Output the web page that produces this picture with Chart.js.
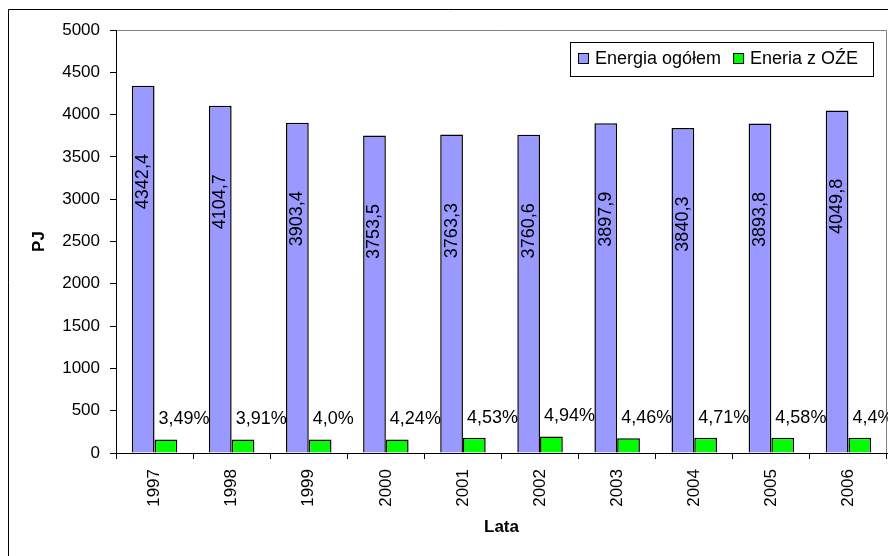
<!DOCTYPE html>
<html>
<head>
<meta charset="utf-8">
<script src="https://cdn.jsdelivr.net/npm/chart.js@4.4.1/dist/chart.umd.min.js"></script>
<style>
  body { margin: 0; background: #fff; }
  #wrap { width: 888px; height: 556px; }
</style>
</head>
<body>
<div id="wrap"><canvas id="energychart" width="888" height="556"></canvas></div>
<script>
const years = ['1997', '1998', '1999', '2000', '2001', '2002', '2003', '2004', '2005', '2006'];
const totalEnergy = [4342.4, 4104.7, 3903.4, 3753.5, 3763.3, 3760.6, 3897.9, 3840.3, 3893.8, 4049.8];
const renewableEnergy = [160, 160, 160, 160, 180, 195, 175, 180, 180, 180];
const renewableShare = ['3,49%', '3,91%', '4,0%', '4,24%', '4,53%', '4,94%', '4,46%', '4,71%', '4,58%', '4,4%'];
const yMin = 0;
const yMax = 5000;
const yStep = 500;

const FONT = '"Liberation Sans", Arial, sans-serif';
Chart.defaults.font.family = FONT;
Chart.defaults.color = '#000';

// frame, plot border, value labels and boxed legend
const extras = {
  id: 'extras',
  beforeDraw(chart) {
    const { ctx, chartArea: a } = chart;
    ctx.save();
    ctx.fillStyle = '#fff';
    ctx.fillRect(0, 0, chart.width, chart.height);
    ctx.strokeStyle = '#000';
    ctx.lineWidth = 1;
    ctx.beginPath();
    ctx.moveTo(8.5, chart.height);
    ctx.lineTo(8.5, 9.5);
    ctx.lineTo(chart.width, 9.5);
    ctx.stroke();
    ctx.strokeStyle = '#808080';
    ctx.beginPath();
    ctx.moveTo(a.left, a.top + 0.5);
    ctx.lineTo(a.right - 0.5, a.top + 0.5);
    ctx.lineTo(a.right - 0.5, a.bottom);
    ctx.stroke();
    ctx.restore();
  },
  afterDatasetsDraw(chart) {
    const { ctx } = chart;
    const blue = chart.getDatasetMeta(0).data;
    const green = chart.getDatasetMeta(1).data;
    ctx.save();
    ctx.fillStyle = '#000';
    ctx.font = '18px ' + FONT;
    blue.forEach((bar, i) => {
      ctx.save();
      ctx.translate(bar.x, bar.y + 96);
      ctx.rotate(-Math.PI / 2);
      ctx.textAlign = 'center';
      ctx.textBaseline = 'middle';
      ctx.fillText(String(totalEnergy[i]).replace('.', ','), 0, 0);
      ctx.restore();
    });
    ctx.textAlign = 'left';
    ctx.textBaseline = 'middle';
    green.forEach((bar, i) => {
      ctx.fillText(renewableShare[i], bar.x - bar.width / 2 + 4, bar.y - 20);
    });
    ctx.restore();
  },
  afterDraw(chart) {
    const { ctx } = chart;
    const sets = chart.data.datasets;
    ctx.save();
    ctx.fillStyle = '#fff';
    ctx.fillRect(570, 42, 303, 34);
    ctx.strokeStyle = '#000';
    ctx.lineWidth = 1;
    ctx.strokeRect(570.5, 42.5, 303, 34);
    ctx.font = '18px ' + FONT;
    ctx.textBaseline = 'middle';
    let x = 578;
    sets.forEach(ds => {
      ctx.fillStyle = ds.backgroundColor;
      ctx.fillRect(x, 53, 11, 11);
      ctx.strokeRect(x + 0.5, 53.5, 10, 10);
      ctx.fillStyle = '#000';
      ctx.fillText(ds.label, x + 17, 59);
      x += 17 + ctx.measureText(ds.label).width + 12;
    });
    ctx.restore();
  }
};

new Chart(document.getElementById('energychart'), {
  type: 'bar',
  data: {
    labels: years,
    datasets: [{
      label: 'Energia ogółem',
      data: totalEnergy,
      backgroundColor: '#9999ff',
      borderColor: '#000',
      borderWidth: 1.5
    }, {
      label: 'Eneria z OŹE',
      data: renewableEnergy,
      backgroundColor: '#00ff00',
      borderColor: '#000',
      borderWidth: 1.5
    }]
  },
  options: {
    responsive: false,
    animation: false,
    layout: { padding: { top: 30, right: 1, left: 0, bottom: 0 } },
    datasets: { bar: { barPercentage: 1, categoryPercentage: 0.59 } },
    plugins: { legend: { display: false }, tooltip: { enabled: false } },
    scales: {
      x: {
        afterFit(scale) { scale.height = 103; },
        grid: { offset: true, drawOnChartArea: false, tickLength: 6, color: '#000' },
        border: { color: '#000' },
        ticks: { autoSkip: false, minRotation: 90, maxRotation: 90, padding: 10, font: { size: 17 } },
        title: { display: true, text: 'Lata', font: { size: 17, weight: 'bold' }, padding: { top: 0, bottom: 18 } }
      },
      y: {
        min: yMin,
        max: yMax,
        afterFit(scale) { scale.width = 116; },
        grid: { drawOnChartArea: false, tickLength: 6, color: '#000' },
        border: { color: '#000' },
        ticks: { stepSize: yStep, padding: 10, font: { size: 17 }, callback: v => String(v) },
        title: { display: true, text: 'PJ', font: { size: 17, weight: 'bold' }, padding: { top: 29, bottom: 0 } }
      }
    }
  },
  plugins: [extras]
});
</script>
</body>
</html>
